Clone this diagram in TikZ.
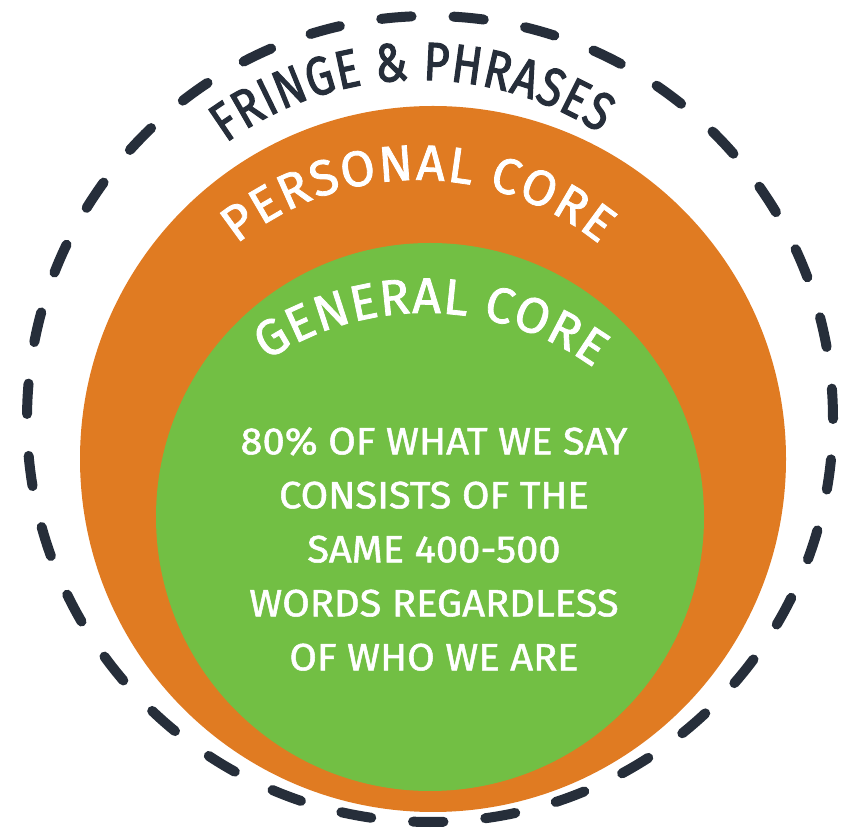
\documentclass[tikz,border=0pt]{standalone}
\usepackage{fontspec}
\usepackage{tikz}
\usetikzlibrary{decorations.text}
\newfontfamily\fringefont[FakeStretch=0.82, FakeBold=2]{Fira Sans}
\newfontfamily\ringfont[FakeBold=1.6]{Fira Sans}
\newfontfamily\corefont[FakeStretch=1.05, FakeBold=1.4]{Fira Sans}
\definecolor{navy}{HTML}{262E3A}
\definecolor{coreorange}{HTML}{E07B22}
\definecolor{coregreen}{HTML}{72BF44}

\begin{document}
\begin{tikzpicture}[
    x=1pt, y=1pt,
    fringering/.style={circle, draw=navy, line width=10pt, dash pattern=on 30.4pt off 42pt, line cap=round, minimum size=806pt, inner sep=0pt},
    personaldisc/.style={circle, fill=coreorange, minimum size=706pt, inner sep=0pt},
    generaldisc/.style={circle, fill=coregreen, minimum size=548pt, inner sep=0pt},
    arclabel/.style={decorate, decoration={text along path, text align={fit to path}, text={#1}}},
    bodytext/.style={align=center, text=white, inner sep=0pt, font=\corefont\fontsize{38}{54}\selectfont}
]
\useasboundingbox (0,0) rectangle (846,830);

\node (fringe) [fringering] at (430,411) {};
\node (personal) [personaldisc] at (433,371) {};
\node (general) [generaldisc] at (430,313) {};

\coordinate (fringec) at (420,420);
\coordinate (personalc) at (418,362);
\coordinate (generalc) at (425,230);

\path [arclabel={|\fringefont\fontsize{54}{54}\selectfont\color{navy}|FRINGE {\&} PHRASES}] ([shift={(126:330)}]fringec) arc[start angle=126, end angle=57, radius=330];
\path [arclabel={|\ringfont\fontsize{50}{50}\selectfont\color{white}|PERSONAL CORE}] ([shift={(129:288)}]personalc) arc[start angle=129, end angle=51, radius=288];
\path [arclabel={|\ringfont\fontsize{50}{50}\selectfont\color{white}|GENERAL CORE}] ([shift={(123.5:287)}]generalc) arc[start angle=123.5, end angle=54, radius=287];

\node (facts) [bodytext] at (434,281) {80\% OF WHAT WE SAY\\CONSISTS OF THE\\SAME 400-500\\WORDS REGARDLESS\\OF WHO WE ARE};

\end{tikzpicture}
\end{document}
